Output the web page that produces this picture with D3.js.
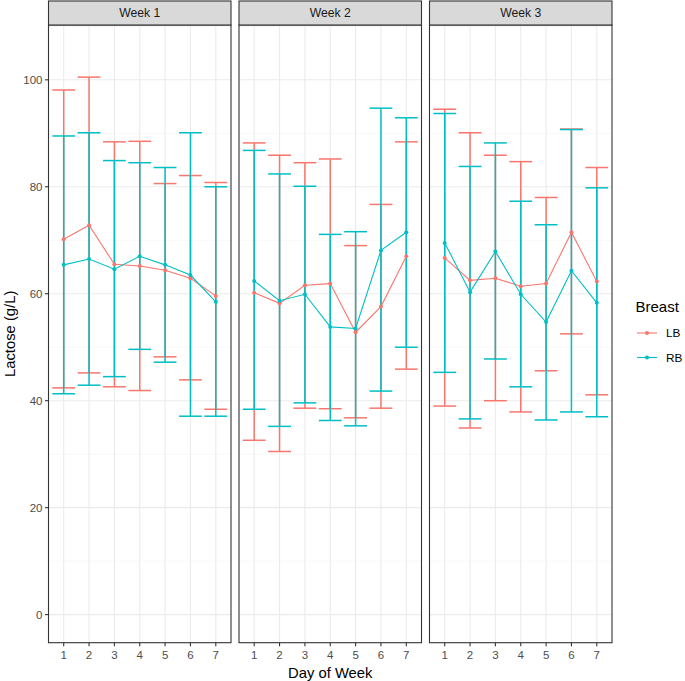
<!DOCTYPE html>
<html><head><meta charset="utf-8">
<script src="https://cdn.jsdelivr.net/npm/d3@7"></script>
<style>body{margin:0;background:#fff;} svg{display:block;font-family:"Liberation Sans",Arial,sans-serif;}</style>
</head><body>
<svg id="chart" width="685" height="681"></svg>
<script>
const weeks = ["Week 1", "Week 2", "Week 3"];
const days = ["1","2","3","4","5","6","7"];
const series = ["LB", "RB"];
const colors = ["#F8766D", "#00BFC4"];
const yTicks = [0, 20, 40, 60, 80, 100];
const yMinorTicks = [10, 30, 50, 70, 90, 110];

// mean values [week][day]
const lbMean = [
  [70.2, 72.8, 65.5, 65.2, 64.4, 62.9, 59.6],
  [60.2, 58.2, 61.6, 61.9, 52.8, 57.6, 67.0],
  [66.7, 62.5, 62.9, 61.4, 61.9, 71.5, 62.3]
];
const lbUpper = [
  [98.1, 100.5, 88.4, 88.5, 80.6, 82.1, 80.8],
  [88.2, 85.9, 84.5, 85.2, 69.0, 76.7, 88.4],
  [94.5, 90.1, 85.9, 84.7, 78.0, 90.8, 83.6]
];
const lbLower = [
  [42.4, 45.2, 42.6, 41.9, 48.2, 43.9, 38.4],
  [32.6, 30.5, 38.6, 38.5, 36.8, 38.6, 45.9],
  [39.0, 34.9, 40.0, 37.9, 45.6, 52.5, 41.1]
];
const rbMean = [
  [65.4, 66.5, 64.6, 67.0, 65.4, 63.5, 58.5],
  [62.4, 58.7, 59.9, 53.8, 53.5, 68.1, 71.5],
  [69.5, 60.3, 67.9, 59.9, 54.7, 64.3, 58.3]
];
const rbUpper = [
  [89.5, 90.1, 84.9, 84.5, 83.6, 90.1, 80.0],
  [86.8, 82.4, 80.1, 71.1, 71.6, 94.7, 92.9],
  [93.7, 83.8, 88.2, 77.3, 72.9, 90.7, 79.8]
];
const rbLower = [
  [41.3, 42.9, 44.5, 49.6, 47.2, 37.1, 37.1],
  [38.4, 35.2, 39.6, 36.3, 35.3, 41.8, 50.0],
  [45.3, 36.6, 47.8, 42.6, 36.4, 37.9, 37.0]
];

const seriesData = [
  {name: "LB", mean: lbMean, upper: lbUpper, lower: lbLower},
  {name: "RB", mean: rbMean, upper: rbUpper, lower: rbLower}
];

const svg = d3.select("#chart");
const panelX0 = [48.5, 239, 429.5];
const panelW = 182.5;
const stripTop = 1, stripBottom = 25, panelBottom = 642.7;

const y = d3.scaleLinear().domain([-5.25, 110.25]).range([panelBottom, stripBottom]);

weeks.forEach((wk, wi) => {
  const x0 = panelX0[wi];
  const x = d3.scalePoint().domain(days).range([x0, x0 + panelW]).padding(0.6 / 0.6 * 1.2 / 2 * 2 / 2 * 1.0).align(0.5);
  const step = panelW / 7.2;
  const xDomain = d3.scaleLinear().domain([0.4, 7.6]).range([x0, x0 + panelW]);
  const cx = d => xDomain(+d);
  const g = svg.append("g");
  g.append("rect").attr("x", x0).attr("y", stripBottom).attr("width", panelW).attr("height", panelBottom - stripBottom).attr("fill", "#fff");
  g.selectAll(".ymin").data(yMinorTicks.filter(v => y(v) > stripBottom)).enter().append("line")
    .attr("x1", x0).attr("x2", x0 + panelW).attr("y1", d => y(d)).attr("y2", d => y(d))
    .attr("stroke", "#F2F2F2").attr("stroke-width", 0.6);
  g.selectAll(".ymaj").data(yTicks).enter().append("line")
    .attr("x1", x0).attr("x2", x0 + panelW).attr("y1", d => y(d)).attr("y2", d => y(d))
    .attr("stroke", "#EBEBEB").attr("stroke-width", 1.1);
  g.selectAll(".xmaj").data(days).enter().append("line")
    .attr("x1", d => cx(d)).attr("x2", d => cx(d)).attr("y1", stripBottom).attr("y2", panelBottom)
    .attr("stroke", "#EBEBEB").attr("stroke-width", 1.1);

  const cap = step * 0.9;
  seriesData.forEach((s, si) => {
    const col = colors[si];
    const eg = g.append("g").attr("stroke", col).attr("stroke-width", 1.5).attr("fill", "none");
    days.forEach((d, di) => {
      const px = cx(d);
      const up = y(s.upper[wi][di]), lo = y(s.lower[wi][di]);
      eg.append("line").attr("x1", px).attr("x2", px).attr("y1", up).attr("y2", lo);
      eg.append("line").attr("x1", px - cap/2).attr("x2", px + cap/2).attr("y1", up).attr("y2", up);
      eg.append("line").attr("x1", px - cap/2).attr("x2", px + cap/2).attr("y1", lo).attr("y2", lo);
    });
  });
  seriesData.forEach((s, si) => {
    const col = colors[si];
    const pts = days.map((d, di) => [cx(d), y(s.mean[wi][di])]);
    g.append("path").attr("d", d3.line()(pts)).attr("fill", "none").attr("stroke", col).attr("stroke-width", 1.1);
    g.selectAll(null).data(pts).enter().append("circle")
      .attr("cx", p => p[0]).attr("cy", p => p[1]).attr("r", 2).attr("fill", col);
  });

  g.append("rect").attr("x", x0).attr("y", stripBottom).attr("width", panelW).attr("height", panelBottom - stripBottom)
    .attr("fill", "none").attr("stroke", "#333333").attr("stroke-width", 1.1);
  g.append("rect").attr("x", x0).attr("y", stripTop).attr("width", panelW).attr("height", stripBottom - stripTop)
    .attr("fill", "#D9D9D9").attr("stroke", "#333333").attr("stroke-width", 1.1);
  g.append("text").attr("x", x0 + panelW/2).attr("y", (stripTop + stripBottom)/2).attr("dy", "0.35em")
    .attr("text-anchor", "middle").attr("font-size", 12.2).attr("fill", "#1A1A1A").text(wk);

  const xa = g.append("g");
  days.forEach(d => {
    xa.append("line").attr("x1", cx(d)).attr("x2", cx(d)).attr("y1", panelBottom).attr("y2", panelBottom + 3.5)
      .attr("stroke", "#333333").attr("stroke-width", 1.1);
    xa.append("text").attr("x", cx(d)).attr("y", panelBottom + 12.5).attr("dy", "0.35em")
      .attr("text-anchor", "middle").attr("font-size", 11.5).attr("fill", "#4D4D4D").text(d);
  });
});

const ya = svg.append("g");
yTicks.forEach(v => {
  ya.append("line").attr("x1", panelX0[0] - 3.5).attr("x2", panelX0[0]).attr("y1", y(v)).attr("y2", y(v))
    .attr("stroke", "#333333").attr("stroke-width", 1.1);
  ya.append("text").attr("x", panelX0[0] - 6).attr("y", y(v)).attr("dy", "0.35em")
    .attr("text-anchor", "end").attr("font-size", 11.5).attr("fill", "#4D4D4D").text(v);
});

svg.append("text").attr("transform", `translate(10,${(stripBottom + panelBottom)/2}) rotate(-90)`)
  .attr("text-anchor", "middle").attr("dy", "0.35em").attr("font-size", 14.8).attr("fill", "#000").text("Lactose (g/L)");
svg.append("text").attr("x", (panelX0[0] + panelX0[2] + panelW)/2).attr("y", 673).attr("dy", "0.35em")
  .attr("text-anchor", "middle").attr("font-size", 14.8).attr("fill", "#000").text("Day of Week");

const lg = svg.append("g");
lg.append("text").attr("x", 635.5).attr("y", 307).attr("dy", "0.35em").attr("font-size", 15).attr("fill", "#000").text("Breast");
series.forEach((s, i) => {
  const ly = 333 + i * 24.5;
  lg.append("line").attr("x1", 637).attr("x2", 657).attr("y1", ly).attr("y2", ly).attr("stroke", colors[i]).attr("stroke-width", 1.1);
  lg.append("circle").attr("cx", 647).attr("cy", ly).attr("r", 2).attr("fill", colors[i]);
  lg.append("text").attr("x", 666).attr("y", ly).attr("dy", "0.35em").attr("font-size", 11.8).attr("fill", "#000").text(s);
});
</script>
</body></html>
